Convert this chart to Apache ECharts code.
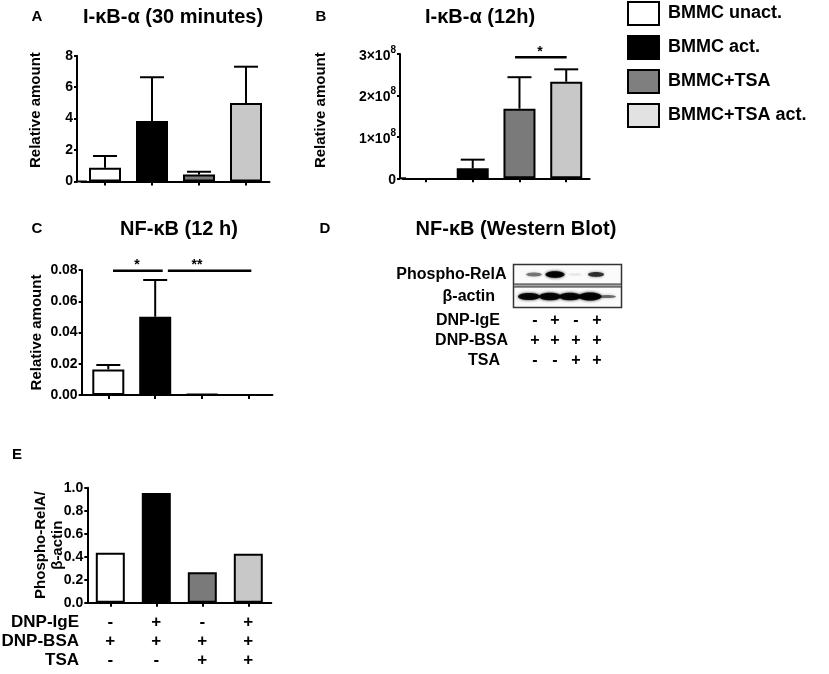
<!DOCTYPE html>
<html>
<head>
<meta charset="utf-8">
<script src="https://cdn.jsdelivr.net/npm/echarts@6/dist/echarts.min.js"></script>
<style>html,body{margin:0;padding:0;background:#fff;}#chart{width:829px;height:674px;}</style>
</head>
<body>
<div id="chart"></div>
<script>
// ---------- data ----------
const conditions = ['BMMC unact.', 'BMMC act.', 'BMMC+TSA', 'BMMC+TSA act.'];
const barColors = ['#ffffff', '#000000', '#7a7a7a', '#c8c8c8'];
const legendColors = ['#ffffff', '#000000', '#7f7f7f', '#e2e2e2'];

// Panel A: I-κB-α (30 minutes)
const aMean = [0.87, 3.85, 0.45, 5.0];
const aErrTop = [1.62, 6.63, 0.62, 7.3];
// Panel B: I-κB-α (12h)
const bMean = [0, 0.24e8, 1.68e8, 2.33e8];
const bErrTop = [null, 0.45e8, 2.44e8, 2.63e8];
// Panel C: NF-κB (12 h)
const cMean = [0.0164, 0.0501, 0.0005, 0];
const cErrTop = [0.0192, 0.0736, null, null];
// Panel E: Phospho-RelA / β-actin
const eMean = [0.435, 0.955, 0.265, 0.425];

// significance brackets: [fromCat, toCat, y, starCat, label]
const bSig = [[1.906, 3.01, 2.92e8, 2.44, '*']];
const cSig = [[0.10, 1.16, 0.0796, 0.61, '*'], [1.27, 3.05, 0.0796, 1.89, '**']];

// treatment rows
const rowNames = ['DNP-IgE', 'DNP-BSA', 'TSA'];
const rowSigns = [['-', '+', '-', '+'], ['+', '+', '+', '+'], ['-', '-', '+', '+']];

// ---------- chart ----------
const FONT = "'Liberation Sans', Arial, Helvetica, sans-serif";
const chart = echarts.init(document.getElementById('chart'), null, {renderer: 'canvas'});

const grids = [
  {left: 81.5, top: 55.7, width: 188, height: 125.8},   // A
  {left: 402.6, top: 54, width: 187, height: 124.3},    // B
  {left: 84.85, top: 270, width: 187.6, height: 125},   // C
  {left: 87.3, top: 487.7, width: 184, height: 115}     // E
];
const yOffsets = [4.5, 2.6, 3.2, 0];

function xAxisFor(i, showLabels) {
  const off = yOffsets[i];
  return {
    type: 'category', gridIndex: i, data: [0, 1, 2, 3].map(k => showLabels ? rowSigns.map(r => r[k]).join('\n') : String(k)),
    axisLine: {show: true, lineStyle: {color: '#000', width: 2},
      symbol: off > 0 ? ['rect', 'none'] : 'none', symbolSize: [2, off * 2 + 2]},
    axisTick: {show: true, alignWithLabel: true, length: 4, lineStyle: {color: '#000', width: 2}},
    axisLabel: showLabels ? {show: true, color: '#000', fontFamily: FONT, fontWeight: 'bold', fontSize: 17, lineHeight: 19, margin: 10} : {show: false},
    splitLine: {show: false}
  };
}

function yAxisFor(i, opts) {
  return Object.assign({
    type: 'value', gridIndex: i, offset: yOffsets[i],
    axisLine: {show: true, lineStyle: {color: '#000', width: 2}},
    axisTick: {show: true, length: 3, lineStyle: {color: '#000', width: 2}},
    splitLine: {show: false},
    nameLocation: 'middle', nameRotate: 90, nameMoveOverlap: false,
    nameTextStyle: {color: '#000', fontFamily: FONT, fontWeight: 'bold', fontSize: 15}
  }, opts);
}

const labelStyle = {color: '#000', fontFamily: FONT, fontWeight: 'bold', fontSize: 14, margin: 4};

const xAxes = [xAxisFor(0, false), xAxisFor(1, false), xAxisFor(2, false), xAxisFor(3, true)];
const yAxes = [
  yAxisFor(0, {min: 0, max: 8, interval: 2, name: 'Relative amount', nameGap: 34,
    nameTextStyle: {color: '#000', fontFamily: FONT, fontWeight: 'bold', fontSize: 15, padding: [0, 0, 0, 17]},
    axisLabel: Object.assign({}, labelStyle)}),
  yAxisFor(1, {min: 0, max: 3e8, interval: 1e8, name: 'Relative amount', nameGap: 72,
    nameTextStyle: {color: '#000', fontFamily: FONT, fontWeight: 'bold', fontSize: 15, padding: [0, 0, 0, 12]},
    axisLabel: Object.assign({}, labelStyle, {
      formatter: v => v === 0 ? '{b|0}' : '{b|' + Math.round(v / 1e8) + '×10}{s|8}',
      rich: {
        b: {fontFamily: FONT, fontWeight: 'bold', fontSize: 14, color: '#000', padding: [4, 0, 0, 0], verticalAlign: 'bottom'},
        s: {fontFamily: FONT, fontWeight: 'bold', fontSize: 10, color: '#000', verticalAlign: 'top'}
      }
    })}),
  yAxisFor(2, {min: 0, max: 0.08, interval: 0.02, name: 'Relative amount', nameGap: 37,
    axisLabel: Object.assign({}, labelStyle, {formatter: v => v.toFixed(2)})}),
  yAxisFor(3, {min: 0, max: 1, interval: 0.2, name: 'Phospho-RelA/\nβ-actin', nameGap: 21,
    nameTextStyle: {color: '#000', fontFamily: FONT, fontWeight: 'bold', fontSize: 15, lineHeight: 17},
    axisLabel: Object.assign({}, labelStyle, {formatter: v => v.toFixed(1)})})
];

const series = [];
const panels = [
  {idx: 0, mean: aMean, err: aErrTop, bw: 32},
  {idx: 1, mean: bMean, err: bErrTop, bw: 32},
  {idx: 2, mean: cMean, err: cErrTop, bw: 32},
  {idx: 3, mean: eMean, err: null, bw: 29}
];

panels.forEach(p => {
  conditions.forEach((name, i) => {
    series.push({
      type: 'bar', name: name, xAxisIndex: p.idx, yAxisIndex: p.idx,
      barWidth: p.bw, barGap: '-100%',
      // zero-valued bars are not drawn (no visible bar in the reference)
      data: p.mean.map((v, j) => (j === i && v > 0) ? v : '-'),
      itemStyle: {color: barColors[i], borderColor: '#000', borderWidth: 2},
      emphasis: {disabled: true}, silent: true
    });
  });
  if (p.err) {
    const errData = [];
    p.err.forEach((t, i) => { if (t != null) errData.push([i, p.mean[i], t]); });
    series.push({
      type: 'custom', name: 'err' + p.idx, xAxisIndex: p.idx, yAxisIndex: p.idx, z: 5,
      encode: {x: 0, y: [1, 2]}, data: errData, silent: true,
      renderItem: function (params, api) {
        const c = api.value(0), m = api.value(1), t = api.value(2);
        const p0 = api.coord([c, m]); const p1 = api.coord([c, t]);
        const hw = 12;
        return {type: 'group', children: [
          {type: 'line', shape: {x1: p0[0], y1: p0[1], x2: p1[0], y2: p1[1]}, style: {stroke: '#000', lineWidth: 2}},
          {type: 'line', shape: {x1: p0[0] - hw, y1: p1[1], x2: p0[0] + hw, y2: p1[1]}, style: {stroke: '#000', lineWidth: 2}}
        ]};
      }
    });
  }
});

function sigSeries(idx, data) {
  return {
    type: 'custom', name: 'sig' + idx, xAxisIndex: idx, yAxisIndex: idx, z: 6, silent: true,
    encode: {x: 0, y: 2}, data: data,
    renderItem: function (params, api) {
      const from = api.value(0), to = api.value(1), y = api.value(2), sc = api.value(3);
      const lbl = data[params.dataIndex][4];
      const base = api.coord([0, y]);
      const bw = api.size([1, 0])[0];
      const x1 = base[0] + from * bw, x2 = base[0] + to * bw, xs = base[0] + sc * bw;
      return {type: 'group', children: [
        {type: 'line', shape: {x1: x1, y1: base[1], x2: x2, y2: base[1]}, style: {stroke: '#000', lineWidth: 2.5}},
        {type: 'text', x: xs, y: base[1] - 5, style: {text: lbl, fill: '#000', font: 'bold 14px ' + FONT, textAlign: 'center', textVerticalAlign: 'middle'}}
      ]};
    }
  };
}
series.push(sigSeries(1, bSig));
series.push(sigSeries(2, cSig));

// ---------- text & blot graphics ----------
const g = [];
function txt(text, x, y, size, align) {
  g.push({type: 'text', x: x, y: y, silent: true,
    style: {text: text, fill: '#000', font: 'bold ' + size + 'px ' + FONT, textAlign: align || 'center', textVerticalAlign: 'middle'}});
}
// panel letters
[['A', 37, 17], ['B', 321, 17], ['C', 37, 229], ['D', 325, 229], ['E', 17, 455]].forEach(a => txt(a[0], a[1], a[2], 15));
// panel titles
[['I-κB-α (30 minutes)', 173, 17], ['I-κB-α (12h)', 480, 17], ['NF-κB (12 h)', 179, 229], ['NF-κB (Western Blot)', 516, 229]]
  .forEach(a => txt(a[0], a[1], a[2], 20));

// Panel E row labels
const eRowY = [622.7, 641.7, 660];
rowNames.forEach((n, i) => txt(n, 79, eRowY[i], 17, 'right'));

// Panel D: western blot drawing
g.push({type: 'rect', silent: true, shape: {x: 513.5, y: 264.5, width: 108, height: 43}, style: {fill: '#fbfbfb', stroke: '#333', lineWidth: 1.5}});
g.push({type: 'rect', silent: true, shape: {x: 513.5, y: 284, width: 108, height: 3}, style: {fill: '#a8a8a8', stroke: '#333', lineWidth: 1}});
const pBands = [[534, 8, 2, 'rgba(0,0,0,0.45)'], [555, 9.5, 3.2, 'rgba(0,0,0,0.95)'], [575, 7, 1.5, 'rgba(0,0,0,0.07)'], [596, 8, 2.4, 'rgba(0,0,0,0.7)']];
pBands.forEach(b => g.push({type: 'ellipse', silent: true, shape: {cx: b[0], cy: 274.5, rx: b[1], ry: b[2]}, style: {fill: b[3], shadowBlur: 3, shadowColor: b[3]}}));
const aBands = [[529, 11, 3.6, 'rgba(0,0,0,0.9)'], [550, 11, 3.8, 'rgba(0,0,0,0.92)'], [570, 11, 3.8, 'rgba(0,0,0,0.9)'], [590, 11.5, 4, 'rgba(0,0,0,0.95)'], [607, 9, 1.6, 'rgba(0,0,0,0.5)']];
aBands.forEach(b => g.push({type: 'ellipse', silent: true, shape: {cx: b[0], cy: 296.5, rx: b[1], ry: b[2]}, style: {fill: b[3], shadowBlur: 3, shadowColor: b[3]}}));
txt('Phospho-RelA', 506.5, 275, 16, 'right');
txt('β-actin', 495, 297, 16, 'right');
const dRowLabels = [['DNP-IgE', 500], ['DNP-BSA', 508], ['TSA', 500]];
const dRowY = [321, 341, 361];
const dLaneX = [535, 555, 576, 597];
dRowLabels.forEach((r, i) => {
  txt(r[0], r[1], dRowY[i], 16, 'right');
  rowSigns[i].forEach((s, k) => txt(s, dLaneX[k], dRowY[i], 16));
});

chart.setOption({
  animation: false,
  backgroundColor: '#ffffff',
  textStyle: {fontFamily: FONT},
  legend: {
    orient: 'vertical', left: 627, top: 1, padding: 0,
    itemWidth: 31, itemHeight: 23, itemGap: 9, icon: 'rect', selectedMode: false,
    textStyle: {color: '#000', fontFamily: FONT, fontWeight: 'bold', fontSize: 18, padding: [0, 0, 0, 4]},
    data: conditions.map((n, i) => ({name: n, itemStyle: {color: legendColors[i], borderColor: '#000', borderWidth: 2}}))
  },
  grid: grids,
  xAxis: xAxes,
  yAxis: yAxes,
  series: series,
  graphic: {elements: g}
});
</script>
</body>
</html>
